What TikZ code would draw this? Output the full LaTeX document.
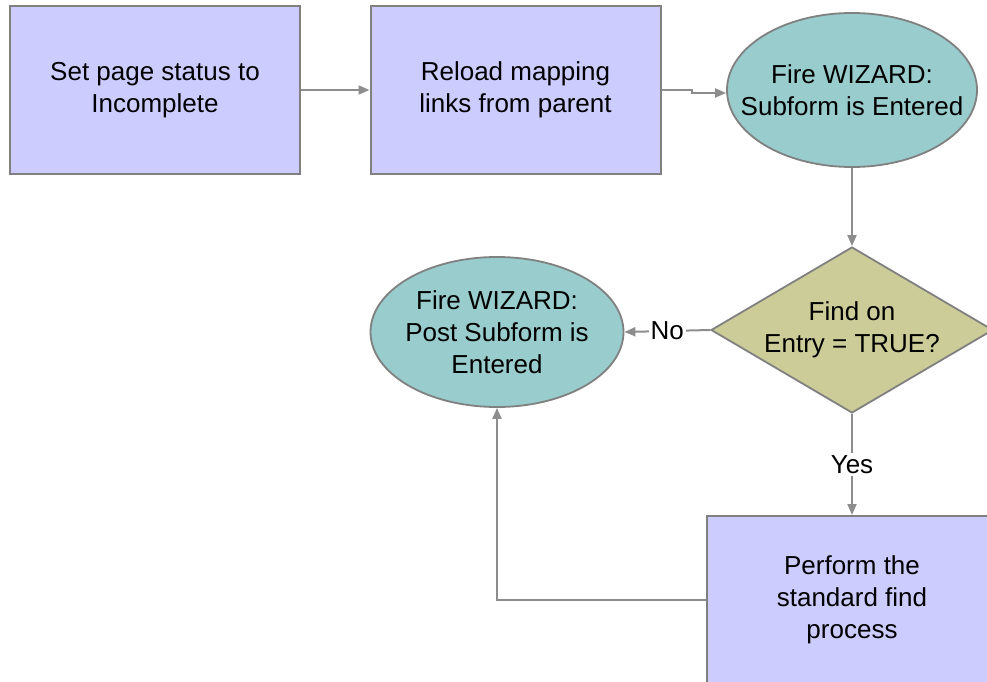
\documentclass[tikz,border=0pt]{standalone}
\usepackage{fontspec}
\setmainfont{Liberation Sans}
\usepackage{tikz}
\usetikzlibrary{positioning, arrows.meta, shapes.geometric}
\definecolor{Lila}{RGB}{204,204,255}
\definecolor{Turquesa}{RGB}{153,204,204}
\definecolor{Caqui}{RGB}{204,204,153}
\definecolor{Borde}{RGB}{128,128,128}

\begin{document}
\begin{tikzpicture}[
  x=1pt, y=-1pt,
  every node/.style={font=\fontsize{26}{32}\selectfont},
  tarea/.style={
    rectangle, draw=Borde, line width=2pt,
    minimum width=290pt, minimum height=168pt,
    align=center, fill=Lila
  },
  evento/.style={
    ellipse, draw=Borde, line width=1.8pt,
    inner xsep=-24pt, inner ysep=0pt,
    minimum width=250pt, minimum height=154pt,
    align=center, fill=Turquesa
  },
  decision/.style={
    diamond, draw=Borde, line width=1.8pt,
    aspect=1.7, inner sep=0pt,
    minimum width=282pt, minimum height=166pt,
    align=center, fill=Caqui
  },
  flecha/.style={draw=Borde!90, line width=2pt,
    -{Triangle[length=11pt, width=9pt]}},
  etiq/.style={fill=white, inner sep=2pt}
]
  \clip (0,0) rectangle (987,682);

  % --- Fila superior ---
  \node[tarea]  (status)  at (155,90)   {Set page status to\\Incomplete};
  \node[tarea]  (reload)  at (515.5,90) {Reload mapping\\links from parent};
  \node[evento] (subform) at (852,90)   {Fire WIZARD:\\Subform is Entered};

  % --- Decision ---
  \node[decision] (findentry) at (852,330) {Find on\\Entry = TRUE?};

  % --- Ramas ---
  \node[evento, minimum width=253pt, minimum height=150pt] (postsub) at (497,332)
    {Fire WIZARD:\\Post Subform is\\Entered};
  \node[tarea] (standard) at (852,600) {Perform the\\standard find\\process};

  % --- Flechas ---
  \draw[flecha] (status) -- (reload);
  \draw[flecha] (reload.east) -- ++(30,0) |- ([yshift=-3pt]subform.west);
  \draw[flecha] (subform.south) -- (findentry.north);
  \draw[flecha] (findentry.west) -- node[etiq]{No} (postsub.east);
  \draw[flecha] (findentry.south) -- node[etiq]{Yes} (standard.north);
  \draw[flecha] (standard.west) -| (postsub.south);
\end{tikzpicture}
\end{document}
